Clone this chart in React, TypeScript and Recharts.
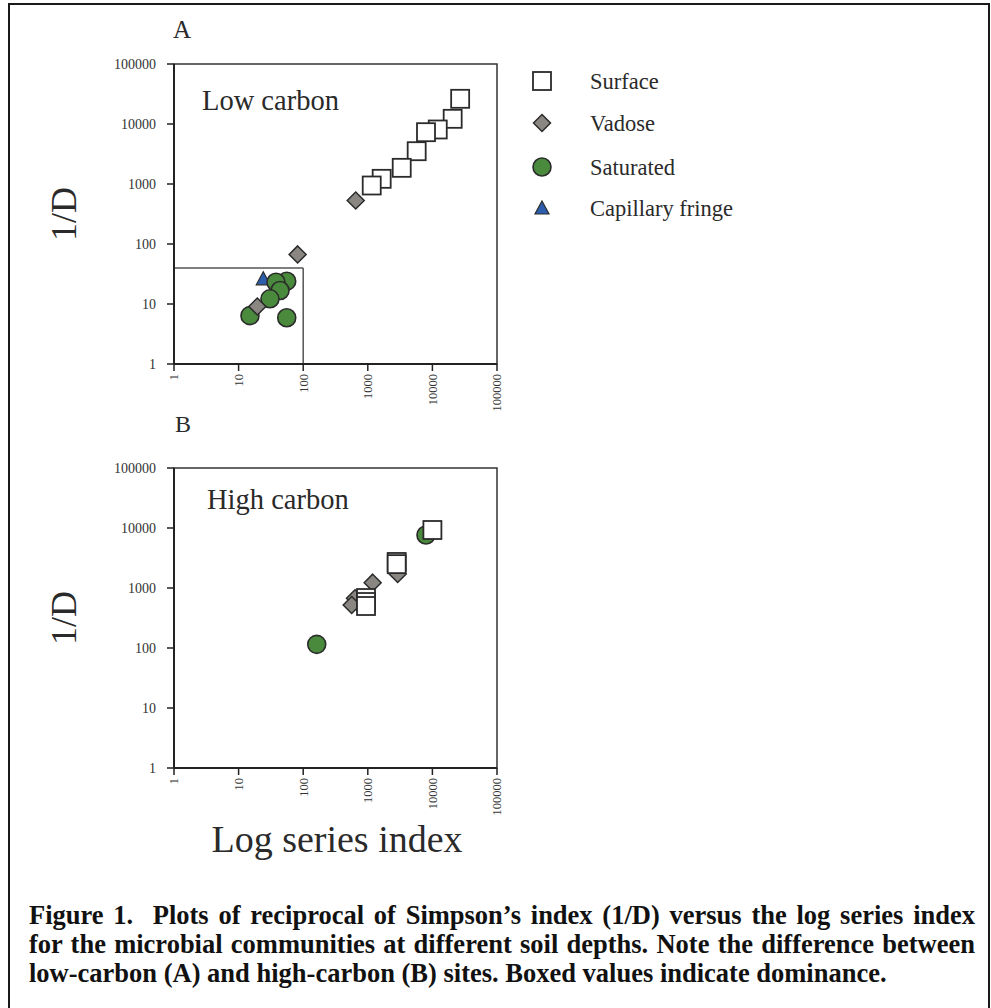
import { ScatterChart, Scatter, XAxis, YAxis, ReferenceArea, ReferenceLine } from 'recharts'

const serif = "'Liberation Serif', 'Times New Roman', Times, serif"
const ink = '#2b2b2b'

// both panels share the same log axes, 1 .. 100000
const axisTicks = [1, 10, 100, 1000, 10000, 100000]

// A - low carbon
const lowSurfaceX = [26900, 20600, 12100, 7960, 5710, 3350, 1640, 1150]
const lowSurfaceY = [26300, 12200, 8100, 7300, 3520, 1860, 1220, 944]
const lowVadoseX = [650, 82, 19.5]
const lowVadoseY = [531, 67, 9.1]
const lowSaturatedX = [55.6, 37.9, 43.8, 30.6, 15, 55.6]
const lowSaturatedY = [24, 23, 16.8, 12.2, 6.4, 5.9]
const lowCapillaryX = [24.1]
const lowCapillaryY = [26.3]

// dominance box drawn in panel A
const boxX = 100
const boxY = 40

// B - high carbon
const highSurfaceX = [10000, 2800, 2800, 938, 938, 938]
const highSurfaceY = [9260, 2715, 2500, 681, 584, 501]
const highVadoseX = [2900, 1190, 634, 563]
const highVadoseY = [1711, 1227, 673, 521]
const highSaturatedX = [7950, 162]
const highSaturatedY = [7640, 115]
const highCapillaryX: number[] = []
const highCapillaryY: number[] = []

const legendNames = ['Surface', 'Vadose', 'Saturated', 'Capillary fringe']

const toPoints = (xs: number[], ys: number[]) => xs.map((x, i) => ({ x, y: ys[i] }))

const SquareMark = ({ cx, cy }: any) => (
  <rect x={cx - 9} y={cy - 9} width={18} height={18} fill="#fff" stroke={ink} strokeWidth={1.8} />
)
const DiamondMark = ({ cx, cy }: any) => (
  <polygon
    points={`${cx},${cy - 8.5} ${cx + 8.5},${cy} ${cx},${cy + 8.5} ${cx - 8.5},${cy}`}
    fill="#8a8782"
    stroke={ink}
    strokeWidth={1.5}
  />
)
const BlobMark = ({ cx, cy }: any) => (
  <circle cx={cx} cy={cy} r={9} fill="#4a8a3c" stroke={ink} strokeWidth={1.6} />
)
const TriangleMark = ({ cx, cy }: any) => (
  <polygon
    points={`${cx},${cy - 7} ${cx + 7},${cy + 6} ${cx - 7},${cy + 6}`}
    fill="#2d5eae"
    stroke={ink}
    strokeWidth={1.2}
  />
)
const legendMarks = [SquareMark, DiamondMark, BlobMark, TriangleMark]

const XTick = ({ x, y, payload }: any) => (
  <text
    x={x}
    y={y + 1}
    transform={`rotate(-90 ${x} ${y + 1})`}
    textAnchor="end"
    dy="0.35em"
    fontSize={12.5}
    fontFamily={serif}
    fill="#333"
  >
    {String(payload.value)}
  </text>
)

const YTick = ({ x, y, payload }: any) => (
  <text x={x - 9} y={y} textAnchor="end" dy="0.35em" fontSize={14} fontFamily={serif} fill="#333">
    {String(payload.value)}
  </text>
)

interface PanelProps {
  surface: { x: number; y: number }[]
  vadose: { x: number; y: number }[]
  saturated: { x: number; y: number }[]
  capillary: { x: number; y: number }[]
  showBox?: boolean
}

function Panel({ surface, vadose, saturated, capillary, showBox }: PanelProps) {
  return (
    <ScatterChart width={520} height={420} margin={{ top: 64, right: 23, bottom: 6, left: 114 }}>
      <XAxis
        type="number"
        dataKey="x"
        scale="log"
        domain={[1, 100000]}
        ticks={axisTicks}
        interval={0}
        allowDataOverflow
        height={50}
        tickSize={7}
        axisLine={{ stroke: '#222', strokeWidth: 2 }}
        tickLine={{ stroke: '#222', strokeWidth: 1.5 }}
        tick={XTick}
      />
      <YAxis
        type="number"
        dataKey="y"
        scale="log"
        domain={[1, 100000]}
        ticks={axisTicks}
        interval={0}
        allowDataOverflow
        width={60}
        tickSize={7}
        axisLine={{ stroke: '#222', strokeWidth: 2 }}
        tickLine={{ stroke: '#222', strokeWidth: 1.5 }}
        tick={YTick}
      />
      <ReferenceArea x1={1} x2={100000} y1={1} y2={100000} fill="none" stroke="#333" strokeWidth={1.5} />
      {showBox && (
        <ReferenceLine segment={[{ x: 1, y: boxY }, { x: boxX, y: boxY }]} stroke="#555" strokeWidth={1.5} />
      )}
      {showBox && (
        <ReferenceLine segment={[{ x: boxX, y: boxY }, { x: boxX, y: 1 }]} stroke="#555" strokeWidth={1.5} />
      )}
      <Scatter name="Capillary fringe" data={capillary} shape={TriangleMark} isAnimationActive={false} />
      <Scatter name="Saturated" data={saturated} shape={BlobMark} isAnimationActive={false} />
      <Scatter name="Vadose" data={vadose} shape={DiamondMark} isAnimationActive={false} />
      <Scatter name="Surface" data={surface} shape={SquareMark} isAnimationActive={false} />
    </ScatterChart>
  )
}

const abs = (left: number, top: number, extra: React.CSSProperties = {}): React.CSSProperties => ({
  position: 'absolute',
  left,
  top,
  lineHeight: 1,
  whiteSpace: 'nowrap',
  ...extra,
})

export default function App() {
  const legendRows = [81, 123, 167, 208]
  return (
    <div
      style={{
        position: 'absolute',
        left: 0,
        top: 0,
        width: 991,
        height: 1008,
        background: '#fff',
        overflow: 'hidden',
        fontFamily: serif,
        color: '#2a2a2a',
      }}
    >
      <div
        style={{
          position: 'absolute',
          left: 8,
          top: 3,
          width: 982,
          height: 1030,
          boxSizing: 'border-box',
          border: '2px solid #1a1a1a',
        }}
      />

      <div style={{ position: 'absolute', left: 0, top: 0 }}>
        <Panel
          surface={toPoints(lowSurfaceX, lowSurfaceY)}
          vadose={toPoints(lowVadoseX, lowVadoseY)}
          saturated={toPoints(lowSaturatedX, lowSaturatedY)}
          capillary={toPoints(lowCapillaryX, lowCapillaryY)}
          showBox
        />
      </div>
      <div style={{ position: 'absolute', left: 0, top: 404 }}>
        <Panel
          surface={toPoints(highSurfaceX, highSurfaceY)}
          vadose={toPoints(highVadoseX, highVadoseY)}
          saturated={toPoints(highSaturatedX, highSaturatedY)}
          capillary={toPoints(highCapillaryX, highCapillaryY)}
        />
      </div>

      <div style={abs(173, 17, { fontSize: 25 })}>A</div>
      <div style={abs(175, 412, { fontSize: 24 })}>B</div>
      <div style={abs(202, 87, { fontSize: 28.5 })}>Low carbon</div>
      <div style={abs(207, 486, { fontSize: 28.5 })}>High carbon</div>

      <div style={abs(14, 196, { width: 100, textAlign: 'center', fontSize: 36, transform: 'rotate(-90deg)' })}>1/D</div>
      <div style={abs(14, 600, { width: 100, textAlign: 'center', fontSize: 36, transform: 'rotate(-90deg)' })}>1/D</div>

      <div style={abs(137, 820, { width: 400, textAlign: 'center', fontSize: 38 })}>Log series index</div>

      {legendNames.map((name, i) => {
        const Mark = legendMarks[i]
        return (
          <div key={name}>
            <svg style={{ position: 'absolute', left: 530, top: legendRows[i] - 12 }} width={24} height={24}>
              <Mark cx={12} cy={12} />
            </svg>
            <div style={abs(590, legendRows[i] - 10, { fontSize: 22.5 })}>{name}</div>
          </div>
        )
      })}

      <div style={{ position: 'absolute', left: 29, top: 901, width: 946, fontSize: 26.5, fontWeight: 'bold', color: '#111', lineHeight: '29px' }}>
        <div style={{ textAlign: 'justify', textAlignLast: 'justify', whiteSpace: 'nowrap' }}>
          {'Figure 1.\u00a0 Plots of reciprocal of Simpson\u2019s index (1/D) versus the log series index'}
        </div>
        <div style={{ textAlign: 'justify', textAlignLast: 'justify', whiteSpace: 'nowrap' }}>
          for the microbial communities at different soil depths. Note the difference between
        </div>
        <div style={{ whiteSpace: 'nowrap' }}>low-carbon (A) and high-carbon (B) sites. Boxed values indicate dominance.</div>
      </div>
    </div>
  )
}
